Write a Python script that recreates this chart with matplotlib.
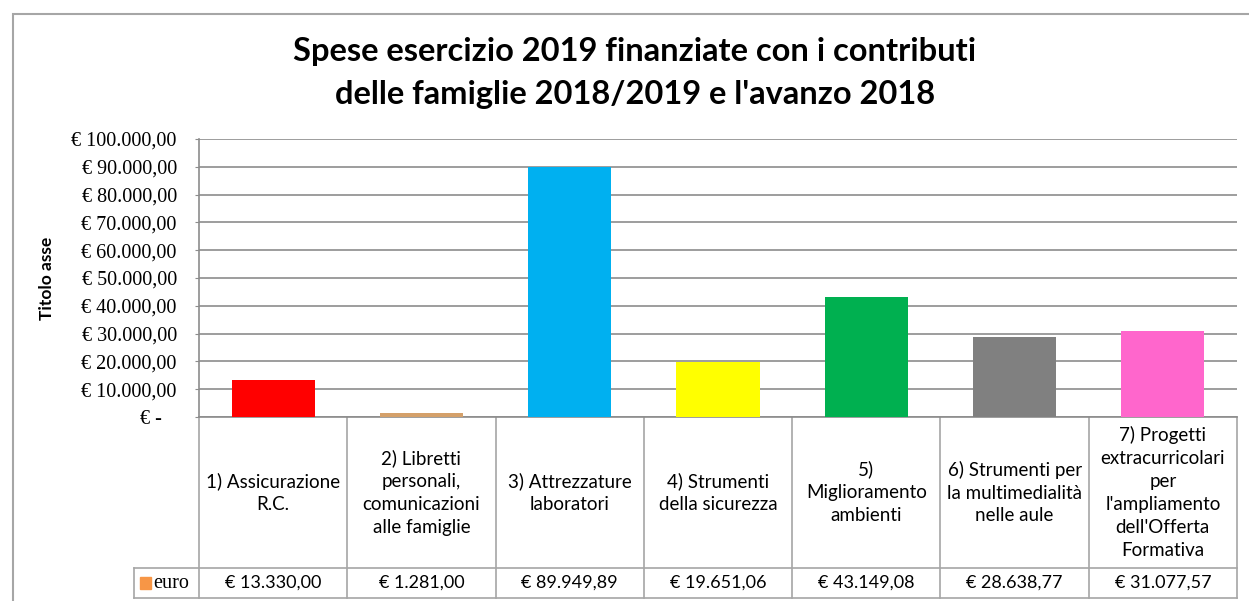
import matplotlib.pyplot as plt
from matplotlib.patches import Rectangle
from matplotlib.ticker import FuncFormatter

categories = [
    "1) Assicurazione\nR.C.",
    "2) Libretti\npersonali,\ncomunicazioni\nalle famiglie",
    "3) Attrezzature\nlaboratori",
    "4) Strumenti\ndella sicurezza",
    "5)\nMiglioramento\nambienti",
    "6) Strumenti per\nla multimedialità\nnelle aule",
    "7) Progetti\nextracurricolari\nper\nl'ampliamento\ndell'Offerta\nFormativa",
]
euro = [13330.00, 1281.00, 89949.89, 19651.06, 43149.08, 28638.77, 31077.57]
bar_colors = ["#FF0000", "#D4A06A", "#00B0F0", "#FFFF00", "#00B050", "#808080", "#FF66CC"]
y_ticks = [0, 10000, 20000, 30000, 40000, 50000, 60000, 70000, 80000, 90000, 100000]
series_name = "euro"
title = "Spese esercizio 2019 finanziate con i contributi\ndelle famiglie 2018/2019 e l'avanzo 2018"
axis_title = "Titolo asse"

SANS = ["Lato", "DejaVu Sans"]
SERIF = ["Liberation Serif", "DejaVu Serif"]
GRID = "#8C8C8C"
BORDER = "#A6A6A6"


def eur(v, zero="€ -"):
    if v == 0:
        return zero
    s = f"{v:,.2f}"
    s = s.replace(",", "X").replace(".", ",").replace("X", ".")
    return "€ " + s


def main():
    W, H = 1249, 601
    fig = plt.figure(figsize=(W / 100, H / 100), dpi=100)

    # outer chart frame (runs off the right and bottom edges)
    fig.patches.append(Rectangle((13 / W, -0.02), 1.05, 1 - 14 / H + 0.02,
                                 transform=fig.transFigure, fill=False,
                                 edgecolor=BORDER, lw=1.5))

    left, right, top, bottom = 199, 1237, 139, 417
    ax = fig.add_axes([left / W, 1 - bottom / H, (right - left) / W, (bottom - top) / H])

    x = range(len(euro))
    ax.bar(x, euro, width=0.56, color=bar_colors, zorder=3)
    ax.set_xlim(-0.5, len(euro) - 0.5)
    ax.set_ylim(0, 100000)
    ax.set_yticks(y_ticks)
    ax.yaxis.set_major_formatter(FuncFormatter(lambda v, p: eur(v, "€ -   ")))
    ax.grid(axis="y", color=GRID, lw=1.2, zorder=0)
    ax.set_xticks([])
    ax.tick_params(axis="y", length=3, color=GRID, pad=13, labelsize=14.5)
    for lab in ax.get_yticklabels():
        lab.set_family(SERIF)
    for s in ["top", "right"]:
        ax.spines[s].set_visible(False)
    ax.spines["left"].set_color(GRID)
    ax.spines["bottom"].set_color(GRID)
    ax.spines["left"].set_linewidth(1.2)
    ax.spines["bottom"].set_linewidth(1.2)

    ax.set_ylabel(axis_title, family=SANS, fontweight="bold", fontsize=12.5, labelpad=12)

    # data table below the plot
    ph = bottom - top
    pw = right - left
    row1 = -(568 - bottom) / ph
    row2 = -(598 - bottom) / ph
    lc = -(left - 134) / pw
    n = len(euro)
    kw = dict(transform=ax.transAxes, color=BORDER, lw=1.2, clip_on=False)
    for i in range(n + 1):
        ax.plot([i / n, i / n], [0, row2], **kw)
    ax.plot([lc, 1], [row1, row1], **kw)
    ax.plot([lc, 1], [row2, row2], **kw)
    ax.plot([lc, lc], [row1, row2], **kw)

    for i, (cat, v) in enumerate(zip(categories, euro)):
        xc = (i + 0.5) / n
        ax.text(xc, row1 / 2, cat, transform=ax.transAxes, ha="center", va="center",
                family=SANS, fontsize=13.5, linespacing=1.42)
        ax.text(xc, (row1 + row2) / 2, eur(v), transform=ax.transAxes, ha="center",
                va="center", family=SANS, fontsize=13)

    ax.add_patch(Rectangle((lc + 0.006, (row1 + row2) / 2 - 0.022), 0.010, 0.044,
                           transform=ax.transAxes, color="#F79646", clip_on=False))
    ax.text(lc + 0.019, (row1 + row2) / 2, series_name, transform=ax.transAxes,
            ha="left", va="center", family=SERIF, fontsize=14.5)

    fig.text(635 / W, 1 - 73 / H, title, ha="center", va="center", family=SANS,
             fontweight="bold", fontsize=23.5, linespacing=1.6)

    fig.savefig("out.png", dpi=100)


if __name__ == "__main__":
    main()
